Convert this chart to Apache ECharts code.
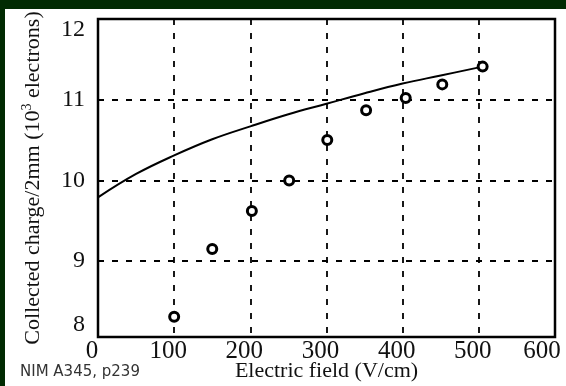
<!DOCTYPE html>
<html>
<head>
<meta charset="utf-8">
<script src="https://cdn.jsdelivr.net/npm/echarts@6/dist/echarts.min.js"></script>
<style>
  html, body { margin: 0; padding: 0; width: 566px; height: 386px; overflow: hidden; background: #012b02; }
  #chart { position: absolute; left: 5px; top: 9px; width: 561px; height: 377px; background: #ffffff; }
</style>
</head>
<body>
<div id="chart"></div>
<script>
// Measured collected charge per 2 mm (10^3 electrons) against electric field (V/cm)
const fieldMeasured  = [100, 150, 202, 251, 301, 352, 404, 452, 505];
const chargeMeasured = [8.31, 9.15, 9.62, 10.00, 10.50, 10.87, 11.02, 11.19, 11.41];

// Calculated charge curve
const fieldModel  = [0, 50, 100, 150, 200, 250, 300, 350, 400, 450, 505];
const chargeModel = [9.79, 10.08, 10.31, 10.51, 10.67, 10.82, 10.95, 11.08, 11.20, 11.30, 11.41];

// Axis ticks
const xTicks = [0, 100, 200, 300, 400, 500, 600];
const yTicks = [8, 9, 10, 11, 12];

const serif = 'Liberation Serif';
const ink = '#111111';

const zip = (xs, ys) => xs.map((x, i) => [x, ys[i]]);

const chart = echarts.init(document.getElementById('chart'), null, { renderer: 'canvas' });

chart.setOption({
  animation: false,
  backgroundColor: '#ffffff',
  title: {
    text: 'NIM A345, p239',
    left: 15,
    top: 356,
    padding: 0,
    textStyle: { fontFamily: 'DejaVu Sans', fontSize: 15, fontWeight: 'normal', color: '#333333' }
  },
  grid: {
    left: 93, right: 11, top: 10, bottom: 49,
    containLabel: false,
    outerBoundsMode: 'none',
    show: true, borderColor: '#000000', borderWidth: 2.5, backgroundColor: 'transparent'
  },
  xAxis: {
    type: 'value',
    min: xTicks[0],
    max: xTicks[xTicks.length - 1],
    interval: xTicks[1] - xTicks[0],
    name: 'Electric field (V/cm)',
    nameLocation: 'middle',
    nameGap: 23,
    nameMoveOverlap: false,
    nameTextStyle: { fontFamily: serif, fontSize: 22, color: ink },
    axisLine: { show: false },
    axisTick: { show: false },
    axisLabel: {
      fontFamily: serif, fontSize: 25, color: ink, margin: 2,
      formatter: (v) => (v === xTicks[xTicks.length - 1] ? '{end|' + v + '}' : '{n|' + v + '}'),
      rich: {
        n: { fontFamily: serif, fontSize: 25, color: ink, padding: [0, 12, 0, 0] },
        end: { fontFamily: serif, fontSize: 25, color: ink, padding: [0, 26, 0, 0] }
      }
    },
    splitLine: { show: true, lineStyle: { color: '#000000', width: 1.8, type: [6, 8] } }
  },
  yAxis: {
    type: 'value',
    min: 8.06,
    max: yTicks[yTicks.length - 1],
    splitNumber: 4,
    name: '{t|Collected charge/2mm (10}{s|3}{t| electrons)}',
    nameLocation: 'middle',
    nameGap: 52,
    nameMoveOverlap: false,
    nameTextStyle: {
      rich: {
        t: { fontFamily: serif, fontSize: 22, color: ink, lineHeight: 26 },
        s: { fontFamily: serif, fontSize: 14, color: ink, verticalAlign: 'top', lineHeight: 14 }
      }
    },
    axisLine: { show: false },
    axisTick: { show: false },
    axisLabel: {
      fontFamily: serif, fontSize: 24, color: ink, margin: 13,
      formatter: (v) => {
        const t = yTicks.reduce((a, b) => Math.abs(b - v) < Math.abs(a - v) ? b : a);
        if (t === yTicks[0]) return '{lo|' + t + '}';
        if (t === yTicks[yTicks.length - 1]) return '{hi|' + t + '}';
        return String(t);
      },
      rich: {
        lo: { fontFamily: serif, fontSize: 24, color: ink, padding: [0, 0, 24, 0] },
        hi: { fontFamily: serif, fontSize: 24, color: ink, padding: [22, 0, 0, 0] }
      }
    },
    splitLine: { show: true, lineStyle: { color: '#000000', width: 1.8, type: [6, 8] } }
  },
  series: [
    {
      name: 'calculated',
      type: 'line',
      data: zip(fieldModel, chargeModel),
      smooth: 0.4,
      showSymbol: false,
      lineStyle: { color: '#000000', width: 2 },
      z: 2
    },
    {
      name: 'measured',
      type: 'scatter',
      data: zip(fieldMeasured, chargeMeasured),
      symbol: 'circle',
      symbolSize: 9,
      itemStyle: { color: '#ffffff', borderColor: '#000000', borderWidth: 3, opacity: 1 },
      z: 3
    }
  ]
});
</script>
</body>
</html>
